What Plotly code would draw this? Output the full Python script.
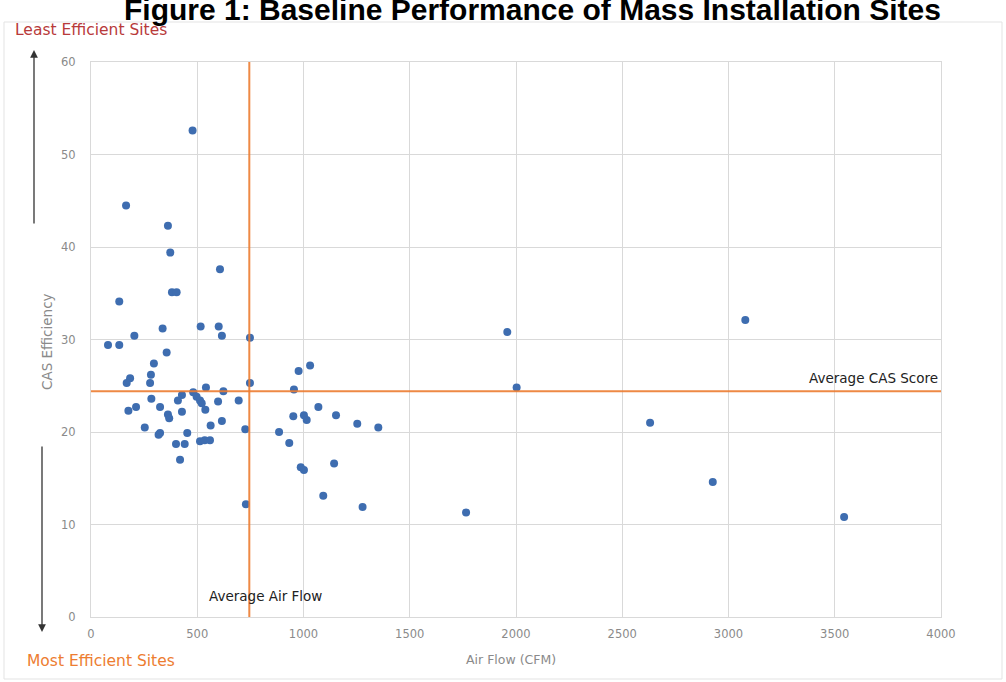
import plotly.graph_objects as go

# Data
air_flow = [478, 165, 362, 373, 607, 381, 403, 133, 337, 516, 601, 616, 748, 204, 80, 133,
            356, 296, 184, 168, 282, 278, 541, 623, 748, 955, 977, 1031, 481, 428, 284, 409,
            497, 513, 521, 538, 598, 695, 325, 212, 176, 362, 368, 428, 616, 563, 253, 325,
            318, 453, 726, 885, 933, 400, 441, 513, 535, 560, 419, 729, 987, 1002, 952, 1070,
            1002, 1015, 1153, 1253, 1352, 1144, 1093, 1278, 1765, 1959, 2003, 2631, 3079, 2926, 3544]
cas_eff = [52.6, 44.5, 42.3, 39.4, 37.6, 35.1, 35.1, 34.1, 31.2, 31.4, 31.4, 30.4, 30.2, 30.4, 29.4, 29.4,
           28.6, 27.4, 25.8, 25.3, 26.2, 25.3, 24.8, 24.4, 25.3, 24.6, 26.6, 27.2, 24.3, 24.0, 23.6, 23.4,
           23.8, 23.4, 23.1, 22.4, 23.3, 23.4, 22.7, 22.7, 22.3, 21.9, 21.5, 22.2, 21.2, 20.7, 20.5, 19.9,
           19.7, 19.9, 20.3, 20.0, 18.8, 18.7, 18.7, 19.0, 19.1, 19.1, 17.0, 12.2, 16.2, 15.9, 21.7, 22.7,
           21.8, 21.3, 21.8, 20.9, 20.5, 16.6, 13.1, 11.9, 11.3, 30.8, 24.8, 21.0, 32.1, 14.6, 10.8]

avg_air_flow = 745
avg_cas_score = 24.4

x_ticks = [0, 500, 1000, 1500, 2000, 2500, 3000, 3500, 4000]
y_ticks = [0, 10, 20, 30, 40, 50, 60]

title_text = "Figure 1: Baseline Performance of Mass Installation Sites"

L, R, T, B = 91, 65, 62, 65
W, H = 1006, 682
PW, PH = W - L - R, H - T - B


def px_x(p):
    return (p - L) / PW


def px_y(p):
    return (H - B - p) / PH


ORANGE = "#ED7D31"
GRID = "#d9d9d9"
TICKC = "#8a8a8a"
FONT = "DejaVu Sans, Verdana, sans-serif"

fig = go.Figure()
fig.add_trace(go.Scatter(
    x=air_flow, y=cas_eff, mode="markers",
    marker=dict(color="#3E6DB0", size=8, line=dict(width=0)),
    showlegend=False, hoverinfo="x+y"))

fig.update_layout(
    width=W, height=H,
    margin=dict(l=L, r=R, t=T, b=B),
    paper_bgcolor="white", plot_bgcolor="white",
    font=dict(family=FONT, color=TICKC, size=11),
    xaxis=dict(range=[0, 4000], tickvals=x_ticks, ticktext=[str(v) for v in x_ticks],
               showgrid=True, gridcolor=GRID, gridwidth=1, zeroline=False,
               showline=True, linecolor=GRID, mirror=True, ticks="",
               ticklabelstandoff=6, tickfont=dict(size=11.5, color=TICKC)),
    yaxis=dict(range=[0, 60], tickvals=y_ticks, ticktext=[str(v) for v in y_ticks],
               showgrid=True, gridcolor=GRID, gridwidth=1, zeroline=False,
               showline=True, linecolor=GRID, mirror=True, ticks="",
               ticklabelstandoff=12, tickfont=dict(size=11.5, color=TICKC)),
)

# Average lines (drawn above markers)
fig.add_shape(type="line", xref="x", yref="paper", x0=avg_air_flow, x1=avg_air_flow, y0=0, y1=1,
              line=dict(color=ORANGE, width=2), layer="above", opacity=0.9)
fig.add_shape(type="line", xref="paper", yref="y", x0=0, x1=1, y0=avg_cas_score, y1=avg_cas_score,
              line=dict(color=ORANGE, width=2), layer="above", opacity=0.9)

# Outer chart border
fig.add_shape(type="rect", xref="paper", yref="paper",
              x0=px_x(4), x1=px_x(1002), y0=px_y(679), y1=px_y(22),
              line=dict(color="#e3e3e3", width=1), layer="below")

annotations = [
    dict(text=title_text, xref="paper", yref="paper", x=px_x(532), y=px_y(9),
         xanchor="center", yanchor="middle", showarrow=False,
         font=dict(family="Liberation Sans, Arial, sans-serif", size=30, color="black", weight="bold")),
    dict(text="Least Efficient Sites", xref="paper", yref="paper", x=px_x(13), y=px_y(30),
         xanchor="left", yanchor="middle", showarrow=False,
         font=dict(family=FONT, size=15.5, color="#B83A3A")),
    dict(text="Most Efficient Sites", xref="paper", yref="paper", x=px_x(25), y=px_y(661),
         xanchor="left", yanchor="middle", showarrow=False,
         font=dict(family=FONT, size=15.5, color=ORANGE)),
    dict(text="CAS Efficiency", xref="paper", yref="paper", x=px_x(47), y=px_y(342),
         xanchor="center", yanchor="middle", showarrow=False, textangle=-90,
         font=dict(family=FONT, size=13.5, color=TICKC)),
    dict(text="Air Flow (CFM)", xref="paper", yref="paper", x=px_x(511), y=px_y(659),
         xanchor="center", yanchor="middle", showarrow=False,
         font=dict(family=FONT, size=12.5, color=TICKC)),
    dict(text="Average CAS Score", xref="paper", yref="paper", x=px_x(940), y=px_y(378),
         xanchor="right", yanchor="middle", showarrow=False,
         font=dict(family=FONT, size=13.5, color="#222222")),
    dict(text="Average Air Flow", xref="paper", yref="paper", x=px_x(265), y=px_y(596),
         xanchor="center", yanchor="middle", showarrow=False,
         font=dict(family=FONT, size=13.5, color="#222222")),
    # arrows
    dict(text="", xref="paper", yref="paper", x=px_x(34), y=px_y(50),
         ax=0, ay=175, axref="pixel", ayref="pixel", showarrow=True,
         arrowhead=2, arrowsize=1.2, arrowwidth=1.3, arrowcolor="#333333"),
    dict(text="", xref="paper", yref="paper", x=px_x(42), y=px_y(632),
         ax=0, ay=-187, axref="pixel", ayref="pixel", showarrow=True,
         arrowhead=2, arrowsize=1.2, arrowwidth=1.3, arrowcolor="#333333"),
]
fig.update_layout(annotations=annotations)

fig.write_html("out.html", config={"displayModeBar": False},
               post_script="document.body.style.margin='0';")
